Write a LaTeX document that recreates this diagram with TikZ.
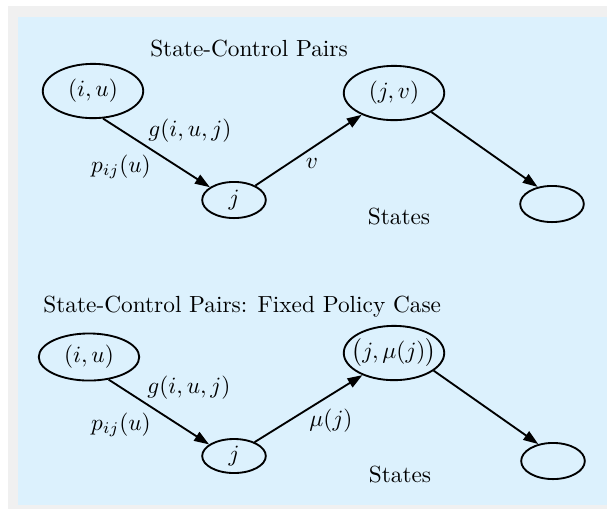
\documentclass[tikz,border=0pt]{standalone}
\usetikzlibrary{shapes.geometric,arrows.meta}
\definecolor{panelblue}{HTML}{DCF1FD}
\definecolor{framegray}{HTML}{F0F0F0}
\begin{document}
\begin{tikzpicture}[x=0.429pt,y=-0.429pt,
  ell/.style={draw,ellipse,line width=0.8pt,inner sep=0pt},
  bigell/.style={ell,minimum width=43.1pt,minimum height=23.3pt},
  smallell/.style={ell,minimum width=27.3pt,minimum height=15.5pt},
  conn/.style={line width=0.8pt,-{Triangle[length=6.4pt,width=4.4pt]}},
  lbl/.style={inner sep=0pt}]
\useasboundingbox (0,0) rectangle (607,509);
\fill[white] (0,0) rectangle (607,509);
\fill[framegray] (8,6) rectangle (607,509);
\fill[panelblue] (18,17) rectangle (607,505);

% top diagram
\node[lbl] (t1) at (249,49) {State-Control Pairs};
\node[bigell] (iu1) at (93,91) {\makebox[0pt]{$(i,u)$}};
\node[smallell] (j1) at (234,200) {\makebox[0pt]{$j$}};
\node[bigell] (jv1) at (394,93) {\makebox[0pt]{$(j,v)$}};
\node[smallell] (e1) at (552,204) {};
\node[lbl] (s1) at (399,217) {States};
\draw[conn] (iu1.-70) -- (j1.152);
\draw[conn] (j1.34) -- (jv1.214);
\draw[conn] (jv1.-27) -- (e1.130);
\node[lbl] (g1) at (190,131) {$g(i,u,j)$};
\node[lbl] (p1) at (121,167) {$p_{ij}(u)$};
\node[lbl] (v1) at (312,163) {$v$};

% bottom diagram
\node[lbl,anchor=west] (t2) at (43,307) {State-Control Pairs: Fixed Policy Case};
\node[ell,minimum width=43.1pt,minimum height=20.2pt] (iu2) at (89,357) {\makebox[0pt]{$(i,u)$}};
\node[ell,minimum width=27.3pt,minimum height=14.6pt] (j2) at (234,456) {\makebox[0pt]{$j$}};
\node[bigell] (jm2) at (394,353) {\makebox[0pt]{$\bigl(j,\mu(j)\bigr)$}};
\node[smallell] (e2) at (553,461) {};
\node[lbl] (s2) at (400,475) {States};
\draw[conn] (iu2.-49) -- (j2.155);
\draw[conn] (j2.34) -- (jm2.215);
\draw[conn] (jm2.-24) -- (e2.131);
\node[lbl] (g2) at (189,388) {$g(i,u,j)$};
\node[lbl] (p2) at (121,425) {$p_{ij}(u)$};
\node[lbl] (m2) at (331,421) {$\mu(j)$};
\end{tikzpicture}
\end{document}
